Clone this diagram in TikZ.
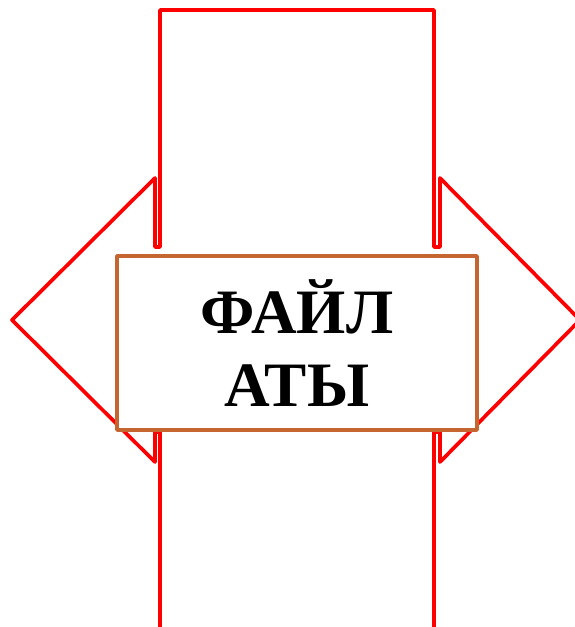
\documentclass[tikz,border=0pt]{standalone}
\usepackage{fontspec}
\setmainfont{Liberation Serif}
\definecolor{boxbrown}{RGB}{197,102,48}
\begin{document}
\begin{tikzpicture}[x=0.02cm,y=-0.02cm,line join=round]
  \useasboundingbox (0,0) rectangle (575,627);
  % cross outline: vertical bar and double arrow
  \draw[red,line width=2.1pt] (160,640) -- (160,432) -- (155,432) -- (155,462)
    -- (12,320) -- (155,178) -- (155,247) -- (160,247) -- (160,10)
    -- (434,10) -- (434,247) -- (440,247) -- (440,178) -- (580,320)
    -- (440,462) -- (440,432) -- (434,432) -- (434,640);
  % name box
  \node[draw=boxbrown,line width=2.1pt,fill=white,minimum width=7.2cm,
    minimum height=3.48cm,inner sep=0pt,align=center,
    font=\fontsize{36}{42}\selectfont\bfseries] (name) at (297,343)
    {ФАЙЛ\\АТЫ};
\end{tikzpicture}
\end{document}
